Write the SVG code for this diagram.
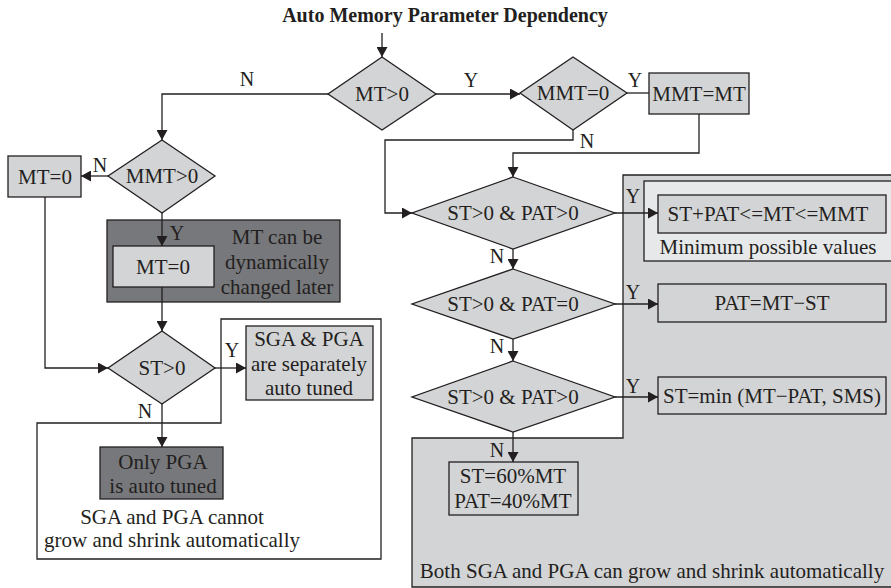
<svg xmlns="http://www.w3.org/2000/svg" width="891" height="588" viewBox="0 0 891 588">
<style>
text{font-family:'Liberation Serif','DejaVu Serif',serif;font-size:21px;fill:#231f20;text-anchor:middle}
.title{font-weight:bold;font-size:20px}
.lbl{font-size:20px}
.n{fill:#d3d4d6;stroke:#231f20;stroke-width:1.3}
.dk{fill:#77787b;stroke:#231f20;stroke-width:1.3}
.reg{fill:#d3d4d6;stroke:#231f20;stroke-width:1.3}
.lt{fill:#e7e8e9;stroke:#231f20;stroke-width:1.3}
.out{fill:none;stroke:#231f20;stroke-width:1.3}
.c{fill:none;stroke:#231f20;stroke-width:1.3}
.a{marker-end:url(#ah)}
</style>
<defs>
<marker id="ah" viewBox="0 0 10 11" refX="10" refY="5.5" markerWidth="10" markerHeight="11" markerUnits="userSpaceOnUse" orient="auto">
<path d="M0,0 L10,5.5 L0,11 z" fill="#231f20"/>
</marker>
</defs>
<rect width="891" height="588" fill="#ffffff"/>
<g font-family="Liberation Serif, serif">
<text class="title" x="445" y="22">Auto Memory Parameter Dependency</text>

<g id="regions">
<polygon class="reg" points="623,175 896,175 896,587 412,587 412,438 623,438"/>
<rect class="lt" x="644" y="181" width="252" height="80"/>
<text x="768" y="254">Minimum possible values</text>
<text x="652" y="578">Both SGA and PGA can grow and shrink automatically</text>
<polygon class="out" points="221,319 381,319 381,559 37,559 37,423 221,423"/>
<text x="172" y="524">SGA and PGA cannot</text>
<text x="172" y="547">grow and shrink automatically</text>
<rect class="dk" x="107" y="220" width="233" height="82"/>
<text x="277" y="244">MT can be</text>
<text x="277" y="269">dynamically</text>
<text x="277" y="294">changed later</text>
</g>

<g id="connectors">
<path class="c a" d="M382,33 V57"/>
<path class="c a" d="M328,94 H162 V140"/>
<path class="c a" d="M436,94 H520"/>
<path class="c" d="M627,93 H649"/>
<path class="c a" d="M573,130 V140 H385 V213 H412"/>
<path class="c a" d="M699,114 V153 H513 V177"/>
<path class="c a" d="M108,176 H81"/>
<path class="c a" d="M162,213 V246"/>
<path class="c a" d="M45,197 V368 H108"/>
<path class="c a" d="M162,287 V331"/>
<path class="c a" d="M215,368 H246"/>
<path class="c a" d="M162,404 V447"/>
<path class="c a" d="M615,213 H658"/>
<path class="c a" d="M513,249 V269"/>
<path class="c a" d="M615,304 H658"/>
<path class="c a" d="M513,339 V361"/>
<path class="c a" d="M615,397 H658"/>
<path class="c a" d="M513,432 V462"/>
<text class="lbl" x="247" y="86">N</text>
<text class="lbl" x="471" y="87">Y</text>
<text class="lbl" x="635" y="87">Y</text>
<text class="lbl" x="587" y="148">N</text>
<text class="lbl" x="100" y="172">N</text>
<text class="lbl" x="177" y="240">Y</text>
<text class="lbl" x="232" y="357">Y</text>
<text class="lbl" x="145" y="418">N</text>
<text class="lbl" x="633" y="203">Y</text>
<text class="lbl" x="497" y="263">N</text>
<text class="lbl" x="633" y="299">Y</text>
<text class="lbl" x="497" y="353">N</text>
<text class="lbl" x="633" y="393">Y</text>
<text class="lbl" x="497" y="457">N</text>
</g>

<g id="d-mt">
<polygon class="n" points="382,57 436,94 382,130 328,94"/>
<text x="382" y="101">MT&gt;0</text>
</g>
<g id="d-mmt0">
<polygon class="n" points="573,57 627,93 573,130 520,93"/>
<text x="573" y="100">MMT=0</text>
</g>
<g id="b-mmtmt">
<rect class="n" x="649" y="73" width="100" height="41"/>
<text x="699" y="101">MMT=MT</text>
</g>
<g id="d-mmtgt">
<polygon class="n" points="162,140 215,176 162,213 108,176"/>
<text x="162" y="183">MMT&gt;0</text>
</g>
<g id="b-mt0a">
<rect class="n" x="8" y="156" width="73" height="41"/>
<text x="45" y="184">MT=0</text>
</g>
<g id="b-mt0b">
<rect class="n" x="113" y="246" width="101" height="41"/>
<text x="163" y="274">MT=0</text>
</g>
<g id="d-st">
<polygon class="n" points="162,331 215,368 162,404 108,368"/>
<text x="162" y="375">ST&gt;0</text>
</g>
<g id="b-sga">
<rect class="n" x="246" y="326" width="127" height="74"/>
<text x="309" y="346">SGA &amp; PGA</text>
<text x="309" y="371">are separately</text>
<text x="309" y="395">auto tuned</text>
</g>
<g id="b-pga">
<rect class="dk" x="100" y="447" width="123" height="52"/>
<text x="163" y="469">Only PGA</text>
<text x="163" y="493">is auto tuned</text>
</g>
<g id="d1">
<polygon class="n" points="513,177 615,213 513,249 412,213"/>
<text x="513" y="220">ST&gt;0 &amp; PAT&gt;0</text>
</g>
<g id="b1">
<rect class="n" x="658" y="195" width="228" height="38"/>
<text x="768" y="221">ST+PAT&lt;=MT&lt;=MMT</text>
</g>
<g id="d2">
<polygon class="n" points="513,269 615,304 513,339 412,304"/>
<text x="513" y="311">ST&gt;0 &amp; PAT=0</text>
</g>
<g id="b2">
<rect class="n" x="658" y="284" width="228" height="38"/>
<text x="772" y="310">PAT=MT−ST</text>
</g>
<g id="d3">
<polygon class="n" points="513,361 615,397 513,432 412,397"/>
<text x="513" y="404">ST&gt;0 &amp; PAT&gt;0</text>
</g>
<g id="b3">
<rect class="n" x="658" y="377" width="228" height="37"/>
<text x="772" y="403">ST=min (MT−PAT, SMS)</text>
</g>
<g id="b4">
<rect class="n" x="449" y="462" width="129" height="53"/>
<text x="513" y="483">ST=60%MT</text>
<text x="513" y="508">PAT=40%MT</text>
</g>
</g>
</svg>
